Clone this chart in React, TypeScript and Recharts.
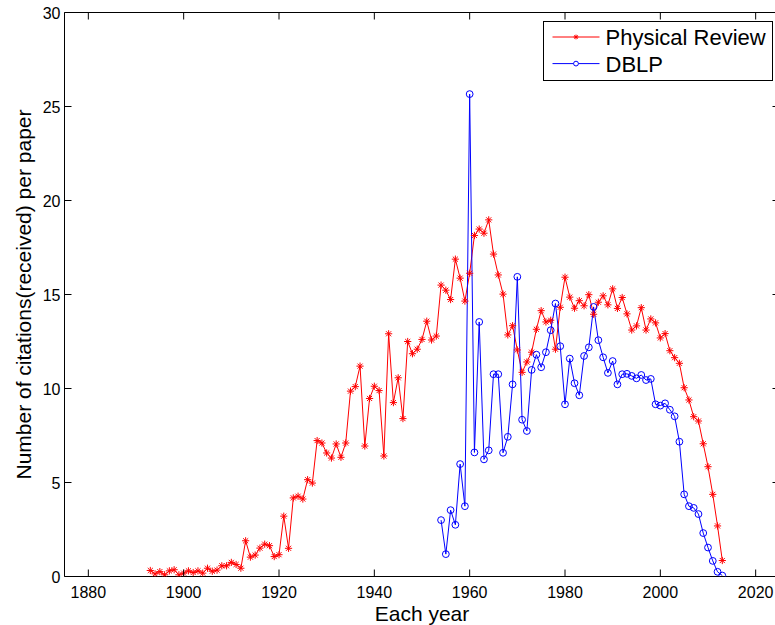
import React from 'react';
import { LineChart, Line, XAxis, YAxis, Legend, ReferenceLine } from 'recharts';

// Publication years covered by each corpus
const physYears: number[] = Array.from({ length: 121 }, (_, i) => 1893 + i);
const dblpYears: number[] = Array.from({ length: 60 }, (_, i) => 1954 + i);

// Average citations received per paper, Physical Review (1893–2013)
const physicalReview: number[] = [
  0.32, 0.14, 0.26, 0.09, 0.30, 0.36, 0.09, 0.18, 0.30, 0.21,
  0.30, 0.18, 0.44, 0.28, 0.34, 0.57, 0.57, 0.75, 0.64, 0.44,
  1.90, 1.03, 1.14, 1.51, 1.72, 1.64, 1.06, 1.16, 3.21, 1.50,
  4.18, 4.27, 4.12, 5.15, 4.97, 7.23, 7.10, 6.57, 6.30, 7.05,
  6.34, 7.10, 9.86, 10.10, 11.19, 6.94, 9.47, 10.12, 9.89, 6.41,
  12.91, 9.25, 10.57, 8.40, 12.50, 11.85, 12.09, 12.61, 13.58, 12.58,
  12.79, 15.50, 15.23, 14.73, 16.88, 15.87, 14.65, 16.13, 18.14, 18.48,
  18.26, 18.97, 17.15, 16.04, 15.02, 12.85, 13.34, 12.05, 10.86, 11.41,
  11.93, 13.15, 14.14, 13.54, 13.63, 12.09, 14.32, 15.92, 14.86, 14.27,
  14.67, 14.40, 14.99, 13.95, 14.59, 14.93, 14.45, 15.30, 14.26, 14.84,
  13.97, 13.11, 13.33, 14.30, 13.11, 13.70, 13.49, 12.69, 12.92, 12.01,
  11.64, 11.34, 10.04, 9.39, 8.50, 8.27, 7.06, 5.84, 4.37, 2.69,
  0.85,
];

// Average citations received per paper, DBLP (1954–2013)
const dblp: number[] = [
  3.00, 1.19, 3.53, 2.75, 5.98, 3.74, 25.66, 6.60, 13.54, 6.23,
  6.71, 10.76, 10.76, 6.58, 7.43, 10.22, 15.94, 8.34, 7.74, 10.99,
  11.80, 11.13, 11.93, 13.10, 14.52, 12.25, 9.16, 11.59, 10.28, 9.64,
  11.73, 12.19, 14.34, 12.57, 11.66, 10.83, 11.46, 10.22, 10.76, 10.78,
  10.67, 10.54, 10.72, 10.45, 10.51, 9.16, 9.09, 9.21, 8.87, 8.52,
  7.17, 4.37, 3.74, 3.65, 3.32, 2.31, 1.54, 0.83, 0.25, 0.05,
];

const xTicks: number[] = [1880, 1900, 1920, 1940, 1960, 1980, 2000, 2020];
const yTicks: number[] = [0, 5, 10, 15, 20, 25, 30];

const physData = physYears.map((year, i) => ({ year, value: physicalReview[i] }));
const dblpData = dblpYears.map((year, i) => ({ year, value: dblp[i] }));

// Chart geometry
const W = 800;
const H = 625;
const LEFT = 64.5;
const RIGHT = 779.5;
const TOP = 12.5;
const BOTTOM = 576.5;
const AXIS_BAND = 2;
const TICK = 7;
const FONT = '"Liberation Sans", Arial, Helvetica, sans-serif';
const RED = '#ff0000';
const BLUE = '#0000ff';

function XTick({ x, payload }: any) {
  return (
    <g>
      <line x1={x} x2={x} y1={BOTTOM} y2={BOTTOM - TICK} stroke="#000" strokeWidth={1} />
      <line x1={x} x2={x} y1={TOP} y2={TOP + TICK} stroke="#000" strokeWidth={1} />
      <text x={x} y={BOTTOM + 21} textAnchor="middle" fontSize={16} fontFamily={FONT} fill="#000">
        {payload.value}
      </text>
    </g>
  );
}

function YTick({ y, payload }: any) {
  return (
    <g>
      <line x1={LEFT} x2={LEFT + TICK} y1={y} y2={y} stroke="#000" strokeWidth={1} />
      <line x1={RIGHT} x2={RIGHT - TICK} y1={y} y2={y} stroke="#000" strokeWidth={1} />
      <text x={LEFT - 4} y={y + 6} textAnchor="end" fontSize={16} fontFamily={FONT} fill="#000">
        {payload.value}
      </text>
    </g>
  );
}

function Asterisk({ cx, cy, r, color }: { cx: number; cy: number; r: number; color: string }) {
  const d = r * 0.7071;
  return (
    <g stroke={color} strokeWidth={1} fill="none">
      <line x1={cx - r} x2={cx + r} y1={cy} y2={cy} />
      <line x1={cx} x2={cx} y1={cy - r} y2={cy + r} />
      <line x1={cx - d} x2={cx + d} y1={cy - d} y2={cy + d} />
      <line x1={cx - d} x2={cx + d} y1={cy + d} y2={cy - d} />
    </g>
  );
}

function StarDot(props: any) {
  const { cx, cy, index } = props;
  if (cx == null || cy == null) return <g key={`s-${index}`} />;
  return (
    <g key={`s-${index}`}>
      <Asterisk cx={cx} cy={cy} r={3.6} color={RED} />
    </g>
  );
}

function CircleDot(props: any) {
  const { cx, cy, index } = props;
  if (cx == null || cy == null) return <g key={`c-${index}`} />;
  return <circle key={`c-${index}`} cx={cx} cy={cy} r={3.4} stroke={BLUE} strokeWidth={1} fill="none" />;
}

function LegendBox() {
  const rows = [
    { name: 'Physical Review', color: RED, marker: 'star' },
    { name: 'DBLP', color: BLUE, marker: 'circle' },
  ];
  return (
    <svg width={230} height={60} style={{ display: 'block' }}>
      <rect x={0.5} y={0.5} width={229} height={59} fill="#fff" stroke="#000" strokeWidth={1} />
      {rows.map((row, i) => {
        const cy = 16 + i * 26.6;
        return (
          <g key={row.name}>
            <line x1={9.5} x2={56.5} y1={cy} y2={cy} stroke={row.color} strokeWidth={1} />
            {row.marker === 'star' ? (
              <Asterisk cx={33} cy={cy} r={2.4} color={row.color} />
            ) : (
              <circle cx={33} cy={cy} r={2.4} stroke={row.color} strokeWidth={1} fill="#fff" />
            )}
            <text x={62.5} y={cy + 8} fontSize={22} fontFamily={FONT} fill="#000">
              {row.name}
            </text>
          </g>
        );
      })}
    </svg>
  );
}

export default function App() {
  return (
    <div
      style={{
        position: 'absolute',
        left: 0,
        top: 0,
        width: 775,
        height: 625,
        overflow: 'hidden',
        background: '#fff',
      }}
    >
      <LineChart
        width={W}
        height={H}
        margin={{ top: TOP, right: W - RIGHT, bottom: H - BOTTOM - AXIS_BAND, left: LEFT - AXIS_BAND }}
      >
        <XAxis
          dataKey="year"
          type="number"
          domain={[1875, 2025]}
          ticks={xTicks}
          interval={0}
          height={AXIS_BAND}
          tickSize={0}
          tickMargin={0}
          axisLine={{ stroke: '#000', strokeWidth: 1 }}
          tickLine={false}
          tick={<XTick />}
          allowDataOverflow
        />
        <YAxis
          type="number"
          domain={[0, 30]}
          ticks={yTicks}
          interval={0}
          width={AXIS_BAND}
          tickSize={0}
          tickMargin={0}
          axisLine={{ stroke: '#000', strokeWidth: 1 }}
          tickLine={false}
          tick={<YTick />}
          allowDataOverflow
        />
        <ReferenceLine y={30} stroke="#000" strokeWidth={1} />
        <ReferenceLine x={2025} stroke="#000" strokeWidth={1} />
        <Line
          data={physData}
          dataKey="value"
          name="Physical Review"
          stroke={RED}
          strokeWidth={1}
          dot={StarDot}
          activeDot={false}
          isAnimationActive={false}
        />
        <Line
          data={dblpData}
          dataKey="value"
          name="DBLP"
          stroke={BLUE}
          strokeWidth={1}
          dot={CircleDot}
          activeDot={false}
          isAnimationActive={false}
        />
        <Legend
          layout="vertical"
          align="center"
          verticalAlign="middle"
          content={() => <LegendBox />}
          wrapperStyle={{ position: 'absolute', left: 542.5, top: 20.5, width: 230, height: 60 }}
        />
        <text x={(LEFT + RIGHT) / 2} y={621} textAnchor="middle" fontSize={21} fontFamily={FONT} fill="#000">
          Each year
        </text>
        <text
          x={31}
          y={(TOP + BOTTOM) / 2}
          textAnchor="middle"
          fontSize={21}
          fontFamily={FONT}
          fill="#000"
          transform={`rotate(-90, 31, ${(TOP + BOTTOM) / 2})`}
        >
          Number of citations(received) per paper
        </text>
      </LineChart>
    </div>
  );
}
